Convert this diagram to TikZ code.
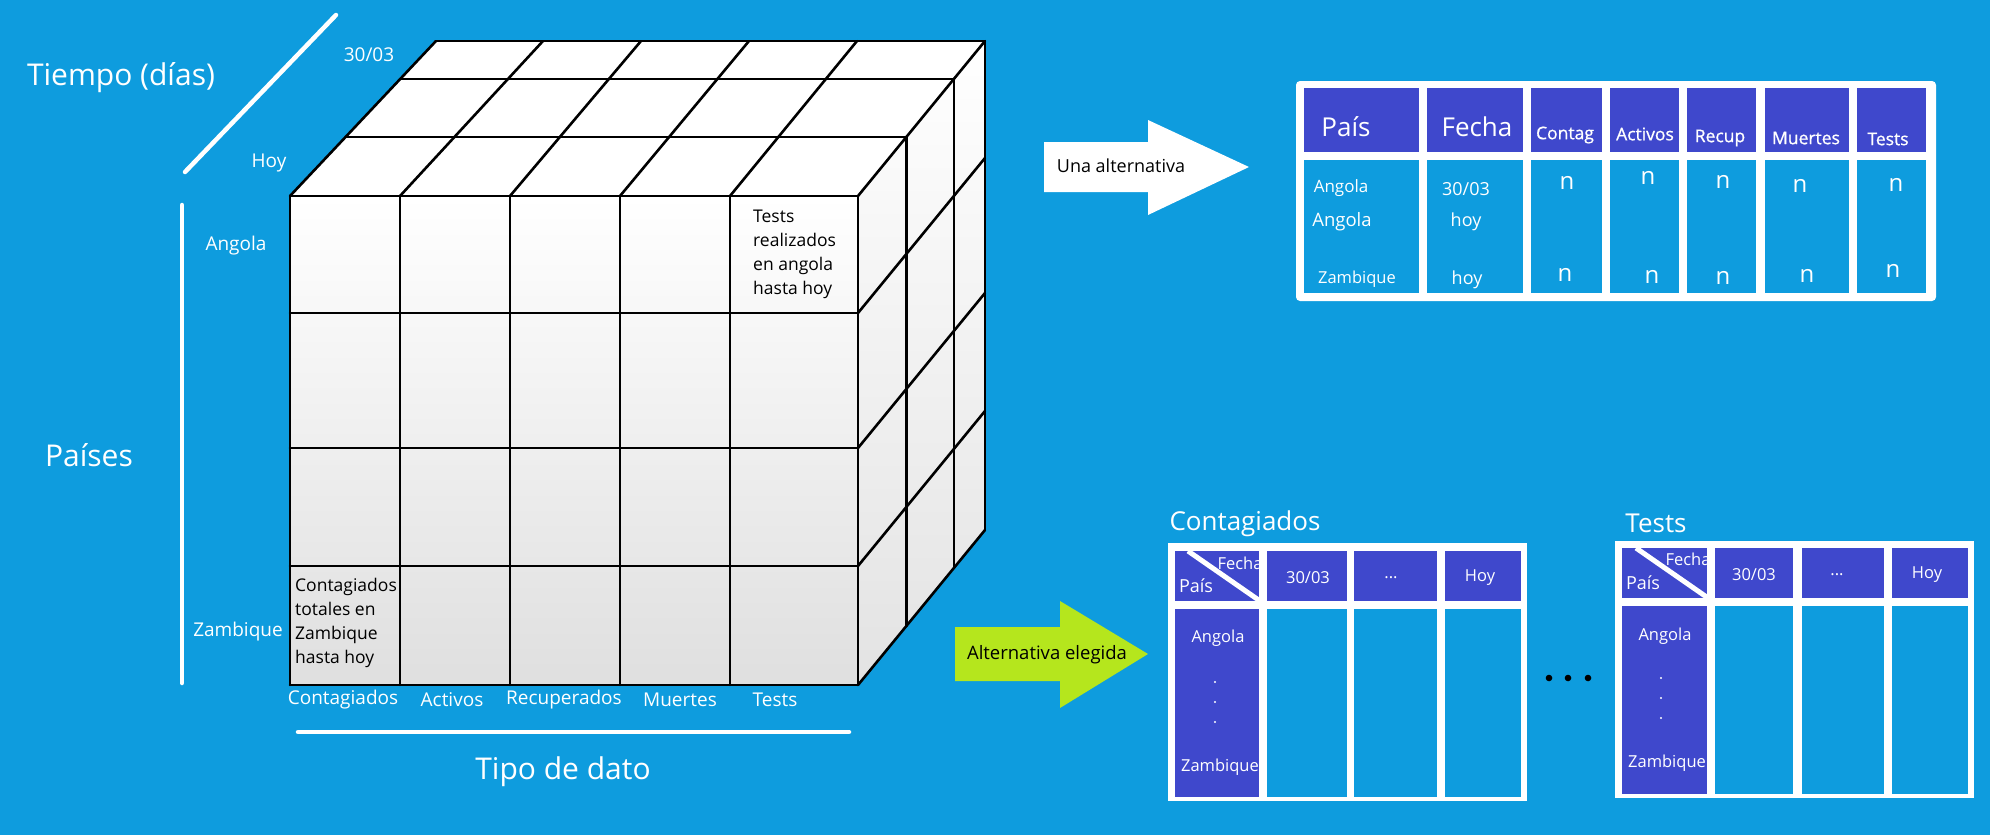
\documentclass[tikz,border=0pt]{standalone}
\usepackage{fontspec}
\setmainfont{Open Sans}
\newfontfamily\semibf[FakeBold=0.8]{Open Sans}
\usetikzlibrary{calc}
\definecolor{bg}{RGB}{14,156,222}
\definecolor{indigo}{RGB}{63,72,204}
\definecolor{limeg}{RGB}{181,230,29}
\begin{document}
\begin{tikzpicture}[x=1pt,y=-1pt,
  cl/.style={draw=black,line width=2.6pt,line cap=round},
  wl/.style={draw=white,line width=4.5pt,line cap=round},
  wt/.style={text=white,inner sep=0pt},
  bt/.style={text=black,inner sep=0pt},
  big/.style={font=\fontsize{30}{36}\selectfont},
  mid/.style={font=\fontsize{26}{31}\selectfont},
  sml/.style={font=\fontsize{19}{23}\selectfont},
  cel/.style={font=\fontsize{17.5}{24}\selectfont},
  hsm/.style={font=\semibf\fontsize{17.5}{24}\selectfont},
  tsm/.style={font=\fontsize{16.5}{20}\selectfont},
  hdr/.style={fill=indigo},
  bdy/.style={fill=bg}]
\useasboundingbox (0,0) rectangle (1990,835);
\fill[bg] (0,0) rectangle (1990,835);

% ---------------- cube ----------------
\shade[top color=white,bottom color=gray!25] (290,196) rectangle (858,685);
\fill[white] (290,196) -- (436,41) -- (985,41) -- (858,196) -- cycle;
\shade[top color=white,bottom color=gray!22] (858,196) -- (985,41) -- (985,530) -- (858,685) -- cycle;
\foreach \x in {290,400,510,620,730,858} \draw[cl] (\x,196) -- (\x,685);
\foreach \y in {196,313,448,566,685} \draw[cl] (290,\y) -- (858,\y);
\foreach \a/\b in {290/436,400/543,510/641,620/749,730/857,858/985} \draw[cl] (\a,196) -- (\b,41);
\foreach \v in {0.38,0.755} {
  \draw[cl] ($(290,196)!\v!(436,41)$) -- ($(858,196)!\v!(985,41)$);
  \draw[cl] ($(858,196)!\v!(985,41)$) -- ($(858,685)!\v!(985,530)$);
}
\draw[cl] (436,41) -- (985,41) -- (985,530);
\foreach \y in {313,448,566,685} \draw[cl] (858,\y) -- (985,{\y-155});

% axis lines
\coordinate (t1) at (336,15); \coordinate (t2) at (185,172);
\draw[wl] (t1) -- (t2);
\coordinate (p1) at (182,205); \coordinate (p2) at (182,683);
\draw[wl] (p1) -- (p2);
\coordinate (d1) at (298,732); \coordinate (d2) at (849,732);
\draw[wl] (d1) -- (d2);

% cube labels
\node[wt,big] (tiempo) at (121,78) {Tiempo (días)};
\node[wt,sml] (f3003) at (369,55) {30/03};
\node[wt,sml] (fhoy) at (269,163) {Hoy};
\node[wt,sml] (pang) at (236,246) {Angola};
\node[wt,big] (paises) at (89,455) {Países};
\node[wt,sml] (pzam) at (238,632) {Zambique};
\node[wt,sml] (c1) at (343,700) {Contagiados};
\node[wt,sml] (c2) at (452,700) {Activos};
\node[wt,sml] (c3) at (564,700) {Recuperados};
\node[wt,sml] (c4) at (680,700) {Muertes};
\node[wt,sml] (c5) at (775,700) {Tests};
\node[wt,big] (tipo) at (563,772) {Tipo de dato};
\node[bt,cel,align=left,anchor=west] (celz) at (295,623) {Contagiados\\totales en\\Zambique\\hasta hoy};
\node[bt,cel,align=left,anchor=west] (cela) at (753,254) {Tests\\realizados\\en angola\\hasta hoy};

% ---------------- arrows ----------------
\fill[white] (1044,142) -- (1148,142) -- (1148,120) -- (1249,167) -- (1148,215) -- (1148,192) -- (1044,192) -- cycle;
\node[bt,font=\fontsize{18}{22}\selectfont] (una) at (1121,166) {Una alternativa};
\fill[limeg] (955,627) -- (1060,627) -- (1060,601) -- (1148,654) -- (1060,708) -- (1060,681) -- (955,681) -- cycle;
\node[bt,font=\fontsize{18.5}{22}\selectfont] (eleg) at (1047,655) {Alternativa elegida};

% ---------------- table 1 ----------------
\fill[white,rounded corners=4pt] (1296,81) rectangle (1936,301);
\foreach \a/\b in {1304/1419,1427/1523,1531/1602,1610/1679,1687/1756,1765/1849,1857/1926} {
  \fill[hdr] (\a,88) rectangle (\b,152);
  \fill[bdy] (\a,160) rectangle (\b,293);
}
\node[wt,mid] (h1) at (1346,127) {País};
\node[wt,mid] (h2) at (1477,127) {Fecha};
\node[wt,hsm] (h3) at (1565,135) {Contag};
\node[wt,hsm] (h4) at (1645,134) {Activos};
\node[wt,hsm] (h5) at (1720,138) {Recup};
\node[wt,hsm] (h6) at (1806,138) {Muertes};
\node[wt,hsm] (h7) at (1888,139) {Tests};
\node[wt,font=\fontsize{17}{20}\selectfont] (r1) at (1341,188) {Angola};
\node[wt,font=\fontsize{18.5}{22}\selectfont] (r2) at (1342,222) {Angola};
\node[wt,font=\fontsize{16.5}{20}\selectfont] (r3) at (1357,279) {Zambique};
\node[wt,font=\fontsize{18}{22}\selectfont] (d1t) at (1466,189) {30/03};
\node[wt,font=\fontsize{18}{22}\selectfont] (d2t) at (1466,222) {hoy};
\node[wt,font=\fontsize{18}{22}\selectfont] (d3t) at (1467,280) {hoy};
\foreach \x/\y [count=\i] in {1567/183,1648/178,1723/182,1800/186,1896/185,1565/275,1652/277,1723/278,1807/276,1893/271}
  \node[wt,font=\fontsize{24}{28}\selectfont] (n\i) at (\x,\y) {n};

% ---------------- table Contagiados ----------------
\node[wt,mid] (tc) at (1245,524) {Contagiados};
\fill[white] (1168,543) rectangle (1527,801);
\foreach \a/\b in {1175/1259,1267/1347,1354/1437,1445/1521} \fill[hdr] (\a,551) rectangle (\b,601);
\fill[hdr] (1175,609) rectangle (1259,797);
\foreach \a/\b in {1267/1347,1354/1437,1445/1521} \fill[bdy] (\a,609) rectangle (\b,797);
\begin{scope}
  \clip (1175,551) rectangle (1259,601);
  \draw[white,line width=5pt] (1188,551) -- (1260,601);
  \node[wt,tsm] (cf) at (1240,563) {Fecha};
\end{scope}
\node[wt,font=\fontsize{18}{22}\selectfont] (cp) at (1196,586) {País};
\node[wt,tsm] (c30) at (1308,578) {30/03};
\node[wt,tsm] (cdd) at (1391,578) {...};
\node[wt,tsm] (choy) at (1480,578) {Hoy};
\node[wt,tsm] (cang) at (1218,638) {Angola};
\foreach \y in {682,702,722} \fill[white] (1215,\y) circle (1.2);
\node[wt,tsm] (czam) at (1220,767) {Zambique};

% dots between tables
\foreach \x in {1549,1568,1588} \fill[black] (\x,678) circle (3.3);

% ---------------- table Tests ----------------
\node[wt,mid] (tt) at (1656,523) {Tests};
\fill[white] (1615,541) rectangle (1974,798);
\foreach \a/\b in {1622/1707,1715/1793,1802/1884,1892/1968} \fill[hdr] (\a,548) rectangle (\b,598);
\fill[hdr] (1622,606) rectangle (1707,794);
\foreach \a/\b in {1715/1793,1802/1884,1892/1968} \fill[bdy] (\a,606) rectangle (\b,794);
\begin{scope}
  \clip (1622,548) rectangle (1707,598);
  \draw[white,line width=5pt] (1636,548) -- (1708,598);
  \node[wt,tsm] (tf) at (1688,559) {Fecha};
\end{scope}
\node[wt,font=\fontsize{18}{22}\selectfont] (tp) at (1643,583) {País};
\node[wt,tsm] (t30) at (1754,575) {30/03};
\node[wt,tsm] (tdd) at (1837,575) {...};
\node[wt,tsm] (thoy) at (1927,575) {Hoy};
\node[wt,tsm] (tang) at (1665,636) {Angola};
\foreach \y in {678,698,718} \fill[white] (1661,\y) circle (1.2);
\node[wt,tsm] (tzam) at (1667,763) {Zambique};
\end{tikzpicture}
\end{document}
